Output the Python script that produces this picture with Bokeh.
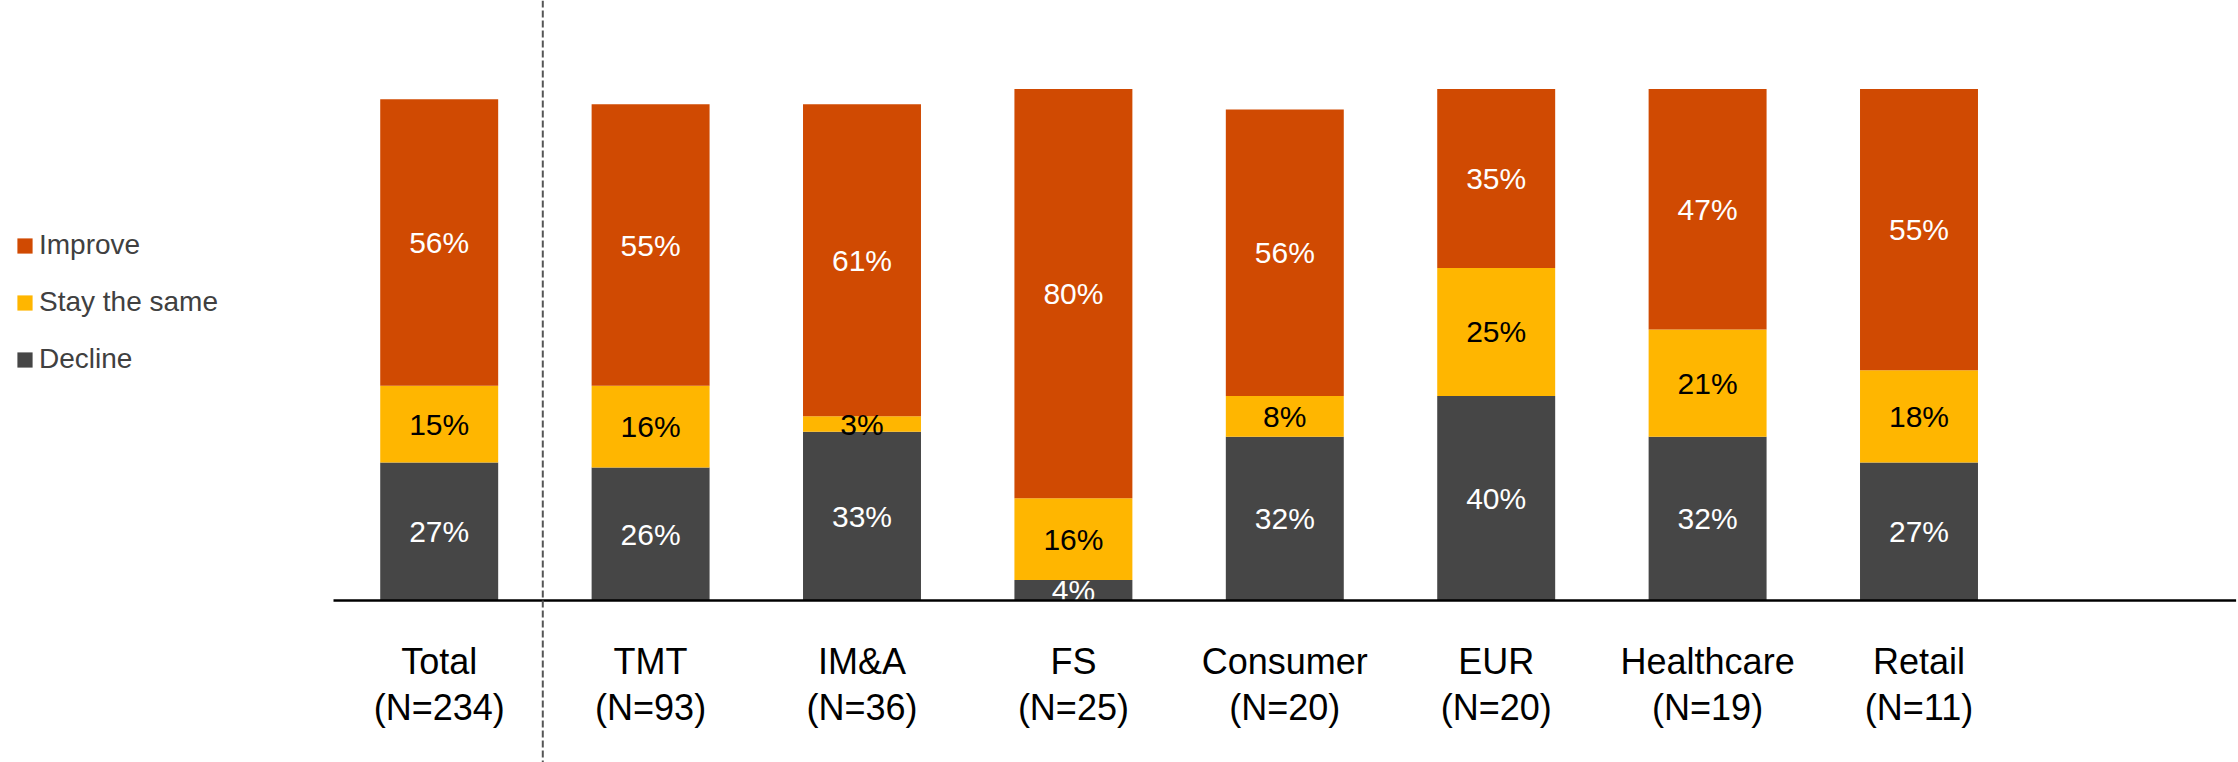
from bokeh.plotting import figure
from bokeh.models import Range1d, Span, Legend, LegendItem, ColumnDataSource
from bokeh.core.properties import value
from bokeh.embed import file_html
from bokeh.resources import INLINE

# ---------------- data ----------------
categories = ["Total", "TMT", "IM&A", "FS", "Consumer", "EUR", "Healthcare", "Retail"]
n_respondents = [234, 93, 36, 25, 20, 20, 19, 11]
decline = [27, 26, 33, 4, 32, 40, 32, 27]
stay_same = [15, 16, 3, 16, 8, 25, 21, 18]
improve = [56, 55, 61, 80, 56, 35, 47, 55]
series_names = ["Decline", "Stay the same", "Improve"]
colors = ["#464646", "#FFB600", "#D04A02"]
label_colors = ["white", "black", "white"]

# ---------------- layout (pixels) ----------------
W, H = 2238, 762
SLOT_PX = 211.4          # width of one category slot
AXIS_LEFT_PX = 333       # left end of the baseline
BASE_PX = 600            # baseline, from the top
PX_PER_PCT = 5.115
FONT = "Liberation Sans"

x_start = -0.5 - AXIS_LEFT_PX / SLOT_PX
x_end = x_start + W / SLOT_PX
y_start = -(H - BASE_PX) / PX_PER_PCT
y_end = BASE_PX / PX_PER_PCT

def py(px_from_top):
    return (BASE_PX - px_from_top) / PX_PER_PCT

xs = list(range(len(categories)))
src = ColumnDataSource(dict(x=xs, cat=categories, decline=decline, stay=stay_same, improve=improve))

p = figure(width=W, height=H, x_range=Range1d(x_start, x_end), y_range=Range1d(y_start, y_end),
           output_backend="svg", toolbar_location=None, x_axis_type=None, y_axis_type=None,
           min_border=0, min_border_left=0, min_border_right=0, min_border_top=0, min_border_bottom=0)
p.outline_line_color = None
p.background_fill_color = "white"
p.border_fill_color = "white"
p.grid.visible = False

renderers = p.vbar_stack(["decline", "stay", "improve"], x="x", width=0.558, color=colors,
                         line_color=None, source=src)

# segment labels
for i, (vals, below) in enumerate([(decline, [0] * len(xs)),
                                   (stay_same, decline),
                                   (improve, [d + s for d, s in zip(decline, stay_same)])]):
    ys = [b + v / 2 for b, v in zip(below, vals)]
    txt = [f"{v}%" for v in vals]
    p.text(x=xs, y=ys, text=txt, text_align="center", text_baseline="middle",
           text_font=value(FONT), text_font_size="30px", text_color=label_colors[i])

# category labels
p.text(x=xs, y=[py(661)] * len(xs), text=categories, text_align="center", text_baseline="middle",
       text_font=value(FONT), text_font_size="36px", text_color="black")
p.text(x=xs, y=[py(707)] * len(xs), text=[f"(N={n})" for n in n_respondents], text_align="center",
       text_baseline="middle", text_font=value(FONT), text_font_size="36px", text_color="black")

# baseline
p.segment(x0=[-0.5], y0=[0], x1=[len(xs) + 0.5], y1=[0], line_color="black", line_width=2.5)

# separator after Total
p.add_layout(Span(location=0.49, dimension="height", line_color="#555555", line_width=2,
                  line_dash="7 3"))

legend = Legend(items=[LegendItem(label=series_names[2], renderers=[renderers[2]]),
                       LegendItem(label=series_names[1], renderers=[renderers[1]]),
                       LegendItem(label=series_names[0], renderers=[renderers[0]])],
                location=(15, H - 375), orientation="vertical",
                glyph_width=19, glyph_height=19, label_standoff=5, label_height=30,
                spacing=25, padding=0, margin=0,
                label_text_font=FONT, label_text_font_size="28px", label_text_color="#404040",
                background_fill_alpha=0, border_line_color=None)
p.add_layout(legend)

open("out.html", "w").write(file_html(p, INLINE))
